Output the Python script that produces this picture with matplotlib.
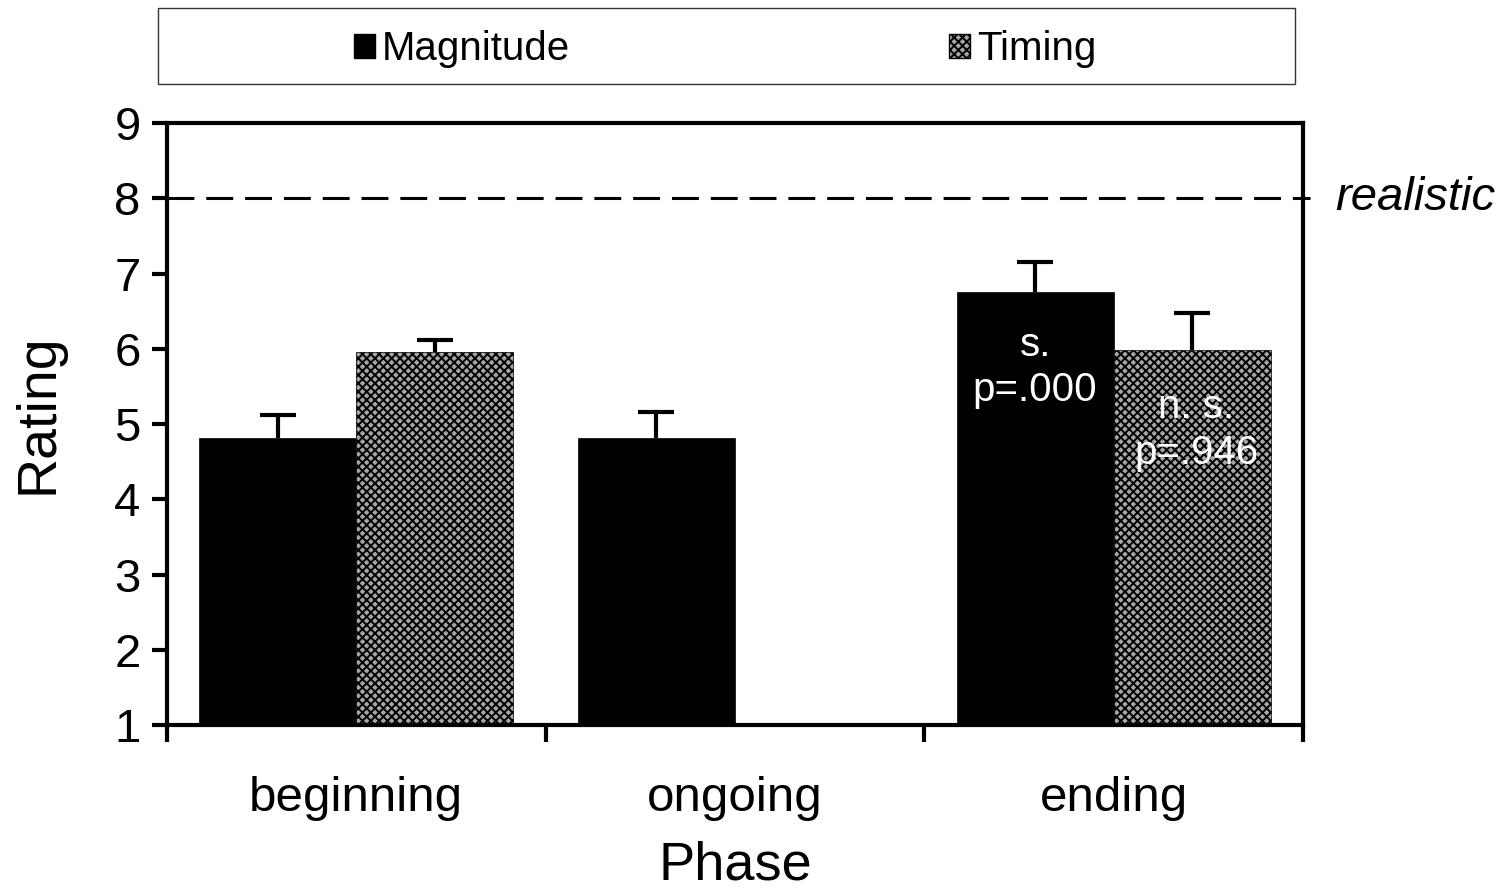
import numpy as np
import matplotlib
matplotlib.use("Agg")
import matplotlib.pyplot as plt
from matplotlib.patches import Patch, Rectangle

plt.rcParams["font.family"] = ["Liberation Sans", "DejaVu Sans"]
plt.rcParams["hatch.color"] = "black"
plt.rcParams["hatch.linewidth"] = 1.4

phases = ["beginning", "ongoing", "ending"]
magnitude = [4.81, 4.81, 6.75]
magnitude_err = [0.31, 0.35, 0.40]
timing = [5.96, np.nan, 5.98]
timing_err = [0.16, np.nan, 0.49]
realistic = 8
notes = ["s.\np=.000", "n. s.\np=.946"]

x = np.arange(len(phases))
w = 0.415
grey = "#a6a6a6"
pattern = "xxxx"

fig = plt.figure(figsize=(15.12, 8.94), dpi=100)
ax = fig.add_axes([0.1104, 0.189, 0.7514, 0.6734])

ax.bar(x - w / 2, magnitude, w, color="black", edgecolor="black",
       linewidth=0.5, zorder=2)
ax.bar(x + w / 2, timing, w, color=grey, edgecolor="black",
       hatch=pattern, linewidth=0.5, zorder=2)

# upper error bars only: hide the cap sitting on the bar top
err_kw = dict(fmt="none", ecolor="black", elinewidth=3, capsize=13,
              capthick=3, zorder=1)
for pos, vals, errs in [(x - w / 2, magnitude, magnitude_err),
                        (x + w / 2, timing, timing_err)]:
    eb = ax.errorbar(pos, vals, yerr=[np.zeros(3), errs], **err_kw)
    eb[1][0].set_visible(False)
    eb[1][1].set_solid_capstyle("round")

# reference level
ax.axhline(realistic, xmin=0, xmax=1.006, color="black", lw=2.2,
           dashes=(8.8, 3.9), clip_on=False, zorder=3)
ax.text(1.028, realistic, "realistic", transform=ax.get_yaxis_transform(),
        fontsize=34, style="italic", va="center", ha="left")

# significance notes inside the ending bars
ax.text(x[2] - w / 2, 5.75, notes[0], color="white", fontsize=29,
        ha="center", va="center", linespacing=1.25, zorder=4)
ax.text(x[2] + w / 2 + 0.01, 4.92, notes[1], color="white", fontsize=29,
        ha="center", va="center", linespacing=1.25, zorder=4)

ax.set_xlim(-0.5, 2.5)
ax.set_ylim(1, 9)
ax.set_yticks(range(1, 10))
ax.set_xticks(x)
ax.set_xticklabels(phases)
ax.set_xticks(np.arange(-0.5, 3, 1), minor=True)
ax.tick_params(axis="y", length=11, width=3, pad=8, labelsize=34)
ax.tick_params(axis="x", which="major", length=0, pad=37, labelsize=35.5)
ax.tick_params(axis="x", which="minor", length=12, width=3, direction="out")
for s in ax.spines.values():
    s.set_linewidth(3)
ax.set_xlabel("Phase", fontsize=39, labelpad=14)
ax.set_ylabel("Rating", fontsize=40, labelpad=36)
ax.yaxis.label.set_y(0.518)

# legend in its own box above the axes
fig.patches.append(Rectangle((158 / 1512, 1 - 84 / 894), 1137 / 1512, 76 / 894,
                             transform=fig.transFigure, fill=False,
                             edgecolor="#333333", lw=1))
handles = [Patch(facecolor="black", edgecolor="black", label="Magnitude"),
           Patch(facecolor=grey, edgecolor="black", hatch=pattern,
                 label="Timing")]
fig.legend(handles=handles, loc="center", bbox_to_anchor=(725 / 1512, 1 - 49 / 894),
           ncol=2, frameon=False, fontsize=29, handlelength=0.52,
           handleheight=0.55, handletextpad=0.18, columnspacing=9.4)

fig.savefig("out.png", dpi=100)
